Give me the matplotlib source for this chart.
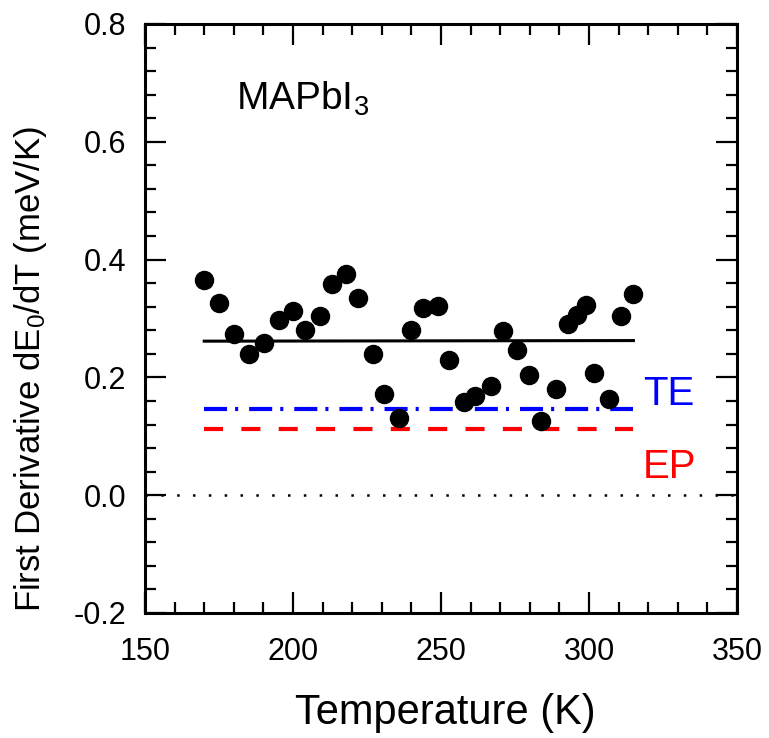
import matplotlib
matplotlib.use("Agg")
import matplotlib.pyplot as plt
import numpy as np

temperature = [170.0, 175.1, 180.1, 185.2, 190.1, 195.2, 200.0, 204.1, 209.0, 213.3,
               217.9, 222.1, 227.0, 230.8, 235.9, 239.9, 243.8, 249.1, 252.8, 257.9,
               261.6, 266.9, 270.8, 275.8, 279.8, 283.8, 288.9, 292.8, 295.8, 298.9,
               301.8, 306.9, 310.8, 314.8]
derivative = [0.366, 0.327, 0.273, 0.240, 0.259, 0.297, 0.312, 0.280, 0.304, 0.358,
              0.375, 0.335, 0.239, 0.172, 0.131, 0.280, 0.318, 0.322, 0.229, 0.159,
              0.168, 0.185, 0.278, 0.247, 0.204, 0.126, 0.180, 0.290, 0.306, 0.323,
              0.208, 0.163, 0.304, 0.342]
line_T = [170.0, 315.0]
fit_level = [0.2615, 0.2625]
te_level = 0.147
ep_level = 0.113
zero_T = [150, 350]
x_ticks = [150, 200, 250, 300, 350]
y_ticks = [-0.2, 0.0, 0.2, 0.4, 0.6, 0.8]
y_ticklabels = ['-0.2', '0.0', '0.2', '0.4', '0.6', '0.8']

plt.rcParams['font.family'] = ['Liberation Sans', 'DejaVu Sans']
plt.rcParams['mathtext.default'] = 'regular'
plt.rcParams['lines.scale_dashes'] = False

fig = plt.figure(figsize=(7.69, 7.38), dpi=100)
ax = fig.add_axes([0.1886, 0.1694, 0.9584 - 0.1886, 0.9675 - 0.1694])

ax.plot(zero_T, [0, 0], color='black', lw=1.8, dashes=(1.8, 9.6), dash_capstyle='butt')
ax.plot(line_T, fit_level, color='black', lw=2.2)
ax.plot(line_T, [te_level, te_level], color='#0000ff', lw=3.0,
        dashes=(16.6, 5.8, 2.2, 7.9), dash_capstyle='butt')
ax.plot(line_T, [ep_level, ep_level], color='#ff0000', lw=3.0,
        dashes=(13.7, 13.2), dash_capstyle='butt')
ax.plot(temperature, derivative, 'o', color='black', ms=13, zorder=5)

ax.set_xlim(150, 350)
ax.set_ylim(-0.2, 0.8)
ax.set_xticks(x_ticks)
ax.set_yticks(y_ticks)
ax.set_yticklabels(y_ticklabels)
ax.set_xticks(np.arange(150, 351, 10), minor=True)
ax.set_yticks(np.arange(-0.2, 0.81, 0.04), minor=True)
ax.tick_params(which='both', direction='in', top=True, right=True, labelsize=22, width=1.6)
ax.tick_params(which='major', length=15)
ax.tick_params(which='minor', length=8)
ax.tick_params(axis='x', which='major', pad=17)
ax.tick_params(axis='y', which='major', pad=13.5)
for s in ax.spines.values():
    s.set_linewidth(2.2)

fig.text(445 / 769, 1 - 724 / 738, 'Temperature (K)', fontsize=30,
         ha='center', va='baseline')
fig.text(31 / 769, 1 - 369 / 738, 'First Derivative dE$_0$/dT (meV/K)', fontsize=25,
         rotation=90, ha='center', va='center')

ax.text(0.154, 0.854, 'MAPbI$_3$', transform=ax.transAxes, fontsize=28, va='baseline')
ax.text(0.841, 0.353, 'TE', transform=ax.transAxes, fontsize=29, color='#0000ff', va='baseline')
ax.text(0.841, 0.229, 'EP', transform=ax.transAxes, fontsize=29, color='#ff0000', va='baseline')

fig.savefig('out.png', dpi=100)
